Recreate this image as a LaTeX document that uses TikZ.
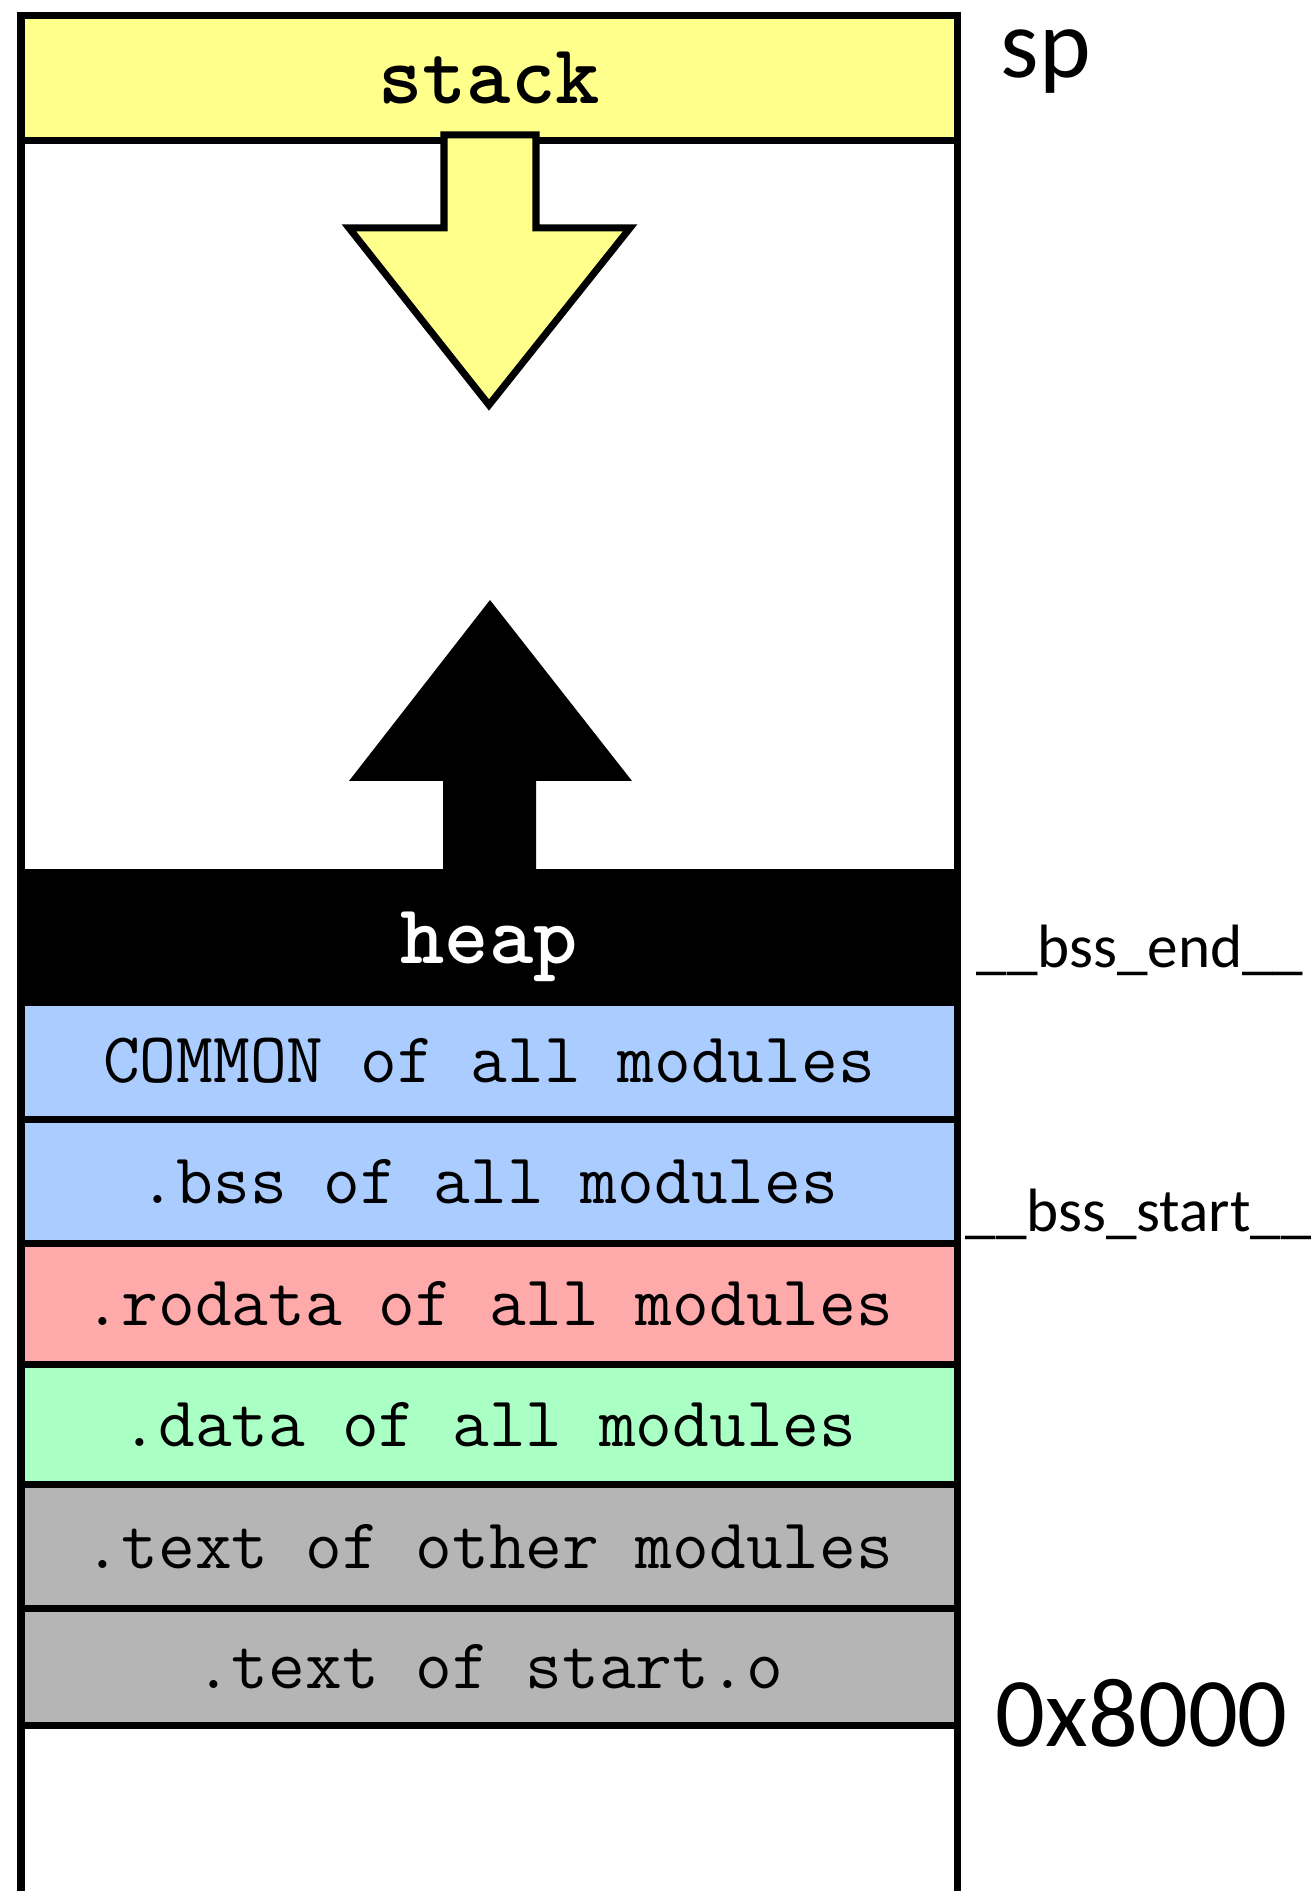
\documentclass[tikz,border=0pt]{standalone}
\usepackage{fontspec}
\newfontfamily\addrfont{Carlito}
\definecolor{stackyellow}{RGB}{255,255,140}
\definecolor{bssblue}{RGB}{170,204,255}
\definecolor{rodatapink}{RGB}{255,170,170}
\definecolor{datagreen}{RGB}{170,255,196}
\definecolor{textgray}{RGB}{181,181,181}

\tikzset{
  segment/.style={draw=black, line width=2pt, minimum width=9.36cm, inner sep=0pt,
    anchor=north, font=\ttfamily\fontsize{20.3}{22}\selectfont},
  bigsegment/.style={segment, font=\ttfamily\bfseries\fontsize{24}{26}\selectfont},
  addr/.style={anchor=base west, inner sep=0pt}
}

\begin{document}
\begin{tikzpicture}
    \useasboundingbox (0,0) rectangle (13.1,18.91);

    % Memory column
    \draw[line width=2pt] (0.21,18.79) -- (0.21,-0.2);
    \draw[line width=2pt] (9.57,18.79) -- (9.57,-0.2);

    % Stack at the top
    \node[bigsegment, fill=stackyellow, minimum height=1.25cm] (stack) at (4.89,18.79) {stack};

    % Sections, from the heap down to 0x8000
    \node[bigsegment, fill=black, text=white, text depth=0pt, minimum height=1.30cm] (heap) at (4.89,10.22) {heap};
    \node[segment, fill=bssblue, minimum height=1.17cm] (common) at (4.89,8.92) {COMMON of all modules};
    \node[segment, fill=bssblue, minimum height=1.24cm] (bss) at (4.89,7.75) {.bss of all modules};
    \node[segment, fill=rodatapink, minimum height=1.21cm] (rodata) at (4.89,6.51) {.rodata of all modules};
    \node[segment, fill=datagreen, minimum height=1.20cm] (data) at (4.89,5.30) {.data of all modules};
    \node[segment, fill=textgray, minimum height=1.24cm] (othertext) at (4.89,4.10) {.text of other modules};
    \node[segment, fill=textgray, minimum height=1.17cm] (starttext) at (4.89,2.86) {.text of start.o};

    % Stack grows down
    \draw[line width=2pt, fill=stackyellow] (4.44,17.56) -- (4.44,16.63) -- (3.49,16.63)
        -- (4.89,14.86) -- (6.30,16.63) -- (5.36,16.63) -- (5.36,17.56) -- cycle;

    % Heap grows up
    \fill (4.43,10.22) -- (4.43,11.10) -- (3.49,11.10) -- (4.90,12.91)
        -- (6.32,11.10) -- (5.36,11.10) -- (5.36,10.22) -- cycle;

    % Addresses and symbols
    \node[addr, font=\addrfont\fontsize{28}{30}\selectfont] (sp) at (10.0,18.13) {sp};
    \node[addr, font=\addrfont\fontsize{17.4}{19}\selectfont] (bssend) at (9.76,9.23) {\_\_bss\_end\_\_};
    \node[addr, font=\addrfont\fontsize{17.4}{19}\selectfont] (bssstart) at (9.65,6.59) {\_\_bss\_start\_\_};
    \node[addr, font=\addrfont\fontsize{28}{30}\selectfont] (origin) at (9.95,1.44) {0x8000};
\end{tikzpicture}
\end{document}
